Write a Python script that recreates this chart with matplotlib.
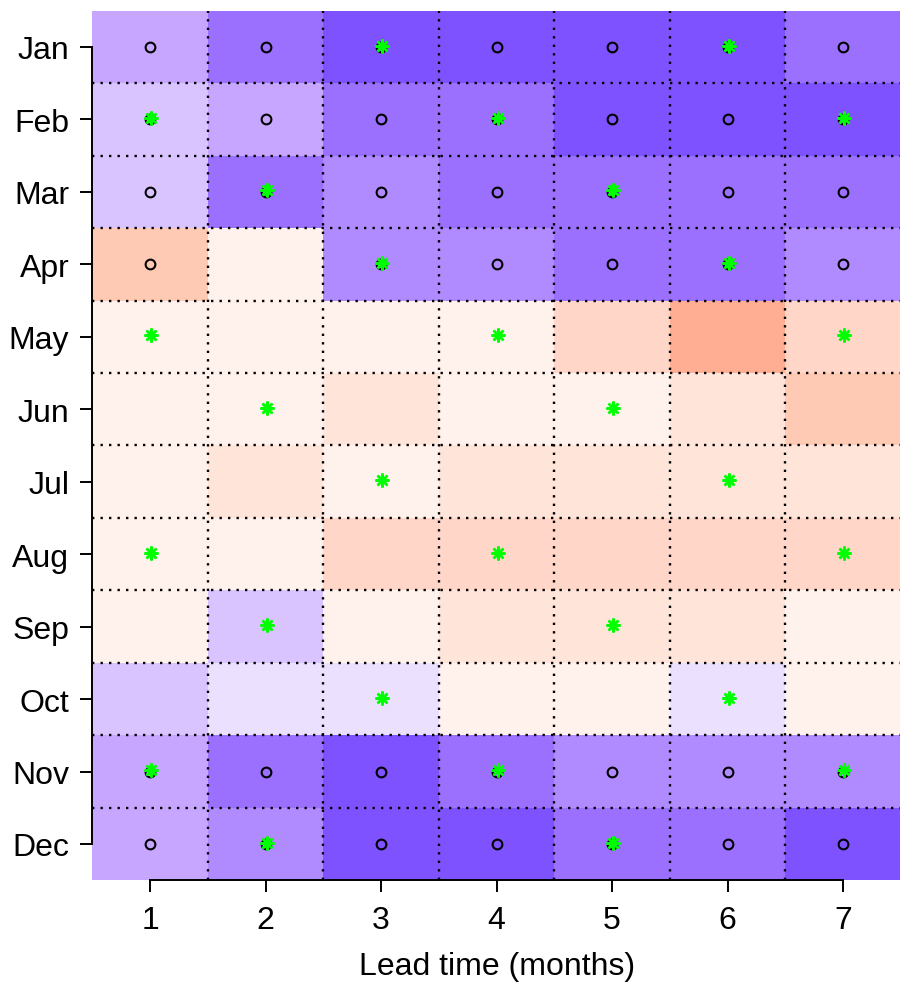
import numpy as np
import matplotlib
matplotlib.use("Agg")
from matplotlib import pyplot as plt
from matplotlib.colors import ListedColormap, BoundaryNorm

plt.rcParams['font.family'] = ['Liberation Sans', 'DejaVu Sans']

months = ['Jan', 'Feb', 'Mar', 'Apr', 'May', 'Jun',
          'Jul', 'Aug', 'Sep', 'Oct', 'Nov', 'Dec']
lead_times = [1, 2, 3, 4, 5, 6, 7]

# colour class of each cell: negative = purple (stronger -> darker),
# positive = salmon (stronger -> darker)
levels = np.array([
    [-3, -5, -6, -6, -6, -6, -5],   # Jan
    [-2, -3, -5, -5, -6, -6, -6],   # Feb
    [-2, -5, -4, -5, -5, -5, -5],   # Mar
    [4, 1, -4, -4, -5, -5, -4],     # Apr
    [1, 1, 1, 1, 3, 5, 3],          # May
    [1, 1, 2, 1, 1, 2, 4],          # Jun
    [1, 2, 1, 2, 2, 2, 2],          # Jul
    [1, 1, 3, 3, 3, 3, 3],          # Aug
    [1, -2, 1, 2, 2, 2, 1],         # Sep
    [-2, -1, -1, 1, 1, -1, 1],      # Oct
    [-3, -5, -6, -5, -4, -4, -4],   # Nov
    [-3, -4, -6, -6, -5, -5, -6],   # Dec
])

# open circles
circles = np.array([
    [1, 1, 1, 1, 1, 1, 1],
    [1, 1, 1, 1, 1, 1, 1],
    [1, 1, 1, 1, 1, 1, 1],
    [1, 0, 1, 1, 1, 1, 1],
    [0, 0, 0, 0, 0, 0, 0],
    [0, 0, 0, 0, 0, 0, 0],
    [0, 0, 0, 0, 0, 0, 0],
    [0, 0, 0, 0, 0, 0, 0],
    [0, 0, 0, 0, 0, 0, 0],
    [0, 0, 0, 0, 0, 0, 0],
    [1, 1, 1, 1, 1, 1, 1],
    [1, 1, 1, 1, 1, 1, 1],
])

# green asterisks
stars = np.array([
    [0, 0, 1, 0, 0, 1, 0],
    [1, 0, 0, 1, 0, 0, 1],
    [0, 1, 0, 0, 1, 0, 0],
    [0, 0, 1, 0, 0, 1, 0],
    [1, 0, 0, 1, 0, 0, 1],
    [0, 1, 0, 0, 1, 0, 0],
    [0, 0, 1, 0, 0, 1, 0],
    [1, 0, 0, 1, 0, 0, 1],
    [0, 1, 0, 0, 1, 0, 0],
    [0, 0, 1, 0, 0, 1, 0],
    [1, 0, 0, 1, 0, 0, 1],
    [0, 1, 0, 0, 1, 0, 0],
])

palette = ['#7f52ff', '#9b70ff', '#b08aff', '#c6a6ff', '#d9c4ff', '#ece0ff',
           '#fff1ec', '#ffe4da', '#ffd6c8', '#ffcab4', '#ffae94']
bounds = [-6.5, -5.5, -4.5, -3.5, -2.5, -1.5, -0.5, 1.5, 2.5, 3.5, 4.5, 5.5]
cmap = ListedColormap(palette)
norm = BoundaryNorm(bounds, cmap.N)

fig = plt.figure(figsize=(9, 9.87), dpi=100)
ax = fig.add_axes([0.1025, 0.1072, 0.8985, 0.8809])

x = np.array(lead_times)
y = np.arange(len(months))
xe = np.append(x - 0.5, x[-1] + 0.5)
ye = np.append(y - 0.5, y[-1] + 0.5)
ax.pcolormesh(xe, ye, levels, cmap=cmap, norm=norm)

# dotted separators between cells
for xv in xe[1:-1]:
    ax.axvline(xv, color='black', lw=1.7, linestyle=(0, (1, 2.6)))
for yv in ye[1:-1]:
    ax.axhline(yv, color='black', lw=1.7, linestyle=(0, (1, 2.6)))

X, Y = np.meshgrid(x, y)
ax.plot(X[circles == 1], Y[circles == 1], linestyle='none', marker='o',
        ms=7, mfc='none', mec='black', mew=1.5)
ax.plot(X[stars == 1] + 0.01, Y[stars == 1] - 0.02, linestyle='none',
        marker=(8, 2, 0), ms=10, mec='#00ff00', mew=1.8)

ax.set_xlim(xe[0], xe[-1])
ax.set_ylim(ye[-1], ye[0])
ax.set_xticks(x)
ax.set_xticklabels([str(v) for v in lead_times])
ax.set_yticks(y)
ax.set_yticklabels(months)
ax.tick_params(axis='both', length=8.6, width=1.4, labelsize=23, color='black')
ax.tick_params(axis='x', pad=9)
ax.tick_params(axis='y', pad=8)

for s in ['top', 'right']:
    ax.spines[s].set_visible(False)
ax.spines['left'].set_bounds(y[0], y[-1])
ax.spines['bottom'].set_bounds(x[0], x[-1])
ax.spines['left'].set_linewidth(1.4)
ax.spines['bottom'].set_linewidth(1.4)

ax.set_xlabel('Lead time (months)', fontsize=23, labelpad=12)

fig.savefig('out.png', dpi=100)
